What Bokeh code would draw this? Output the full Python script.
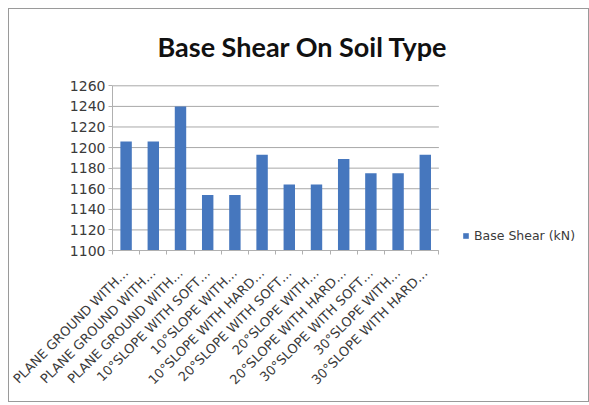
import math
from bokeh.plotting import figure
from bokeh.models import FixedTicker, Legend, LegendItem, Range1d, ColumnDataSource, Label
from bokeh.embed import file_html
from bokeh.resources import INLINE

# Category labels as shown on the axis (truncated, as in the source workbook)
categories = [
    "PLANE GROUND WITH…",
    "PLANE GROUND WITH…",
    "PLANE GROUND WITH…",
    "10°SLOPE WITH SOFT…",
    "10°SLOPE WITH…",
    "10°SLOPE WITH HARD…",
    "20°SLOPE WITH SOFT…",
    "20°SLOPE WITH…",
    "20°SLOPE WITH HARD…",
    "30°SLOPE WITH SOFT…",
    "30°SLOPE WITH…",
    "30°SLOPE WITH HARD…",
]
base_shear = [1206, 1206, 1240, 1154, 1154, 1193, 1164, 1164, 1189, 1175, 1175, 1193]
y_ticks = [1100, 1120, 1140, 1160, 1180, 1200, 1220, 1240, 1260]
series_name = "Base Shear (kN)"
chart_title = "Base Shear On Soil Type"

FONT = "DejaVu Sans"
TITLE_FONT = "Lato"
n = len(categories)
positions = list(range(n))
source = ColumnDataSource(dict(x=positions, top=base_shear))

# The frame runs on past the bars (right, for the legend) and above them
# (for the title); the bar area is PLOT_W x PLOT_H pixels of the frame.
PLOT_W, FRAME_W = 325, 472
PLOT_H, FRAME_H = 164, 236
x_start = -0.5
x_bars_end = n - 0.5
x_end = x_start + n * FRAME_W / PLOT_W
y_start, y_top_tick = y_ticks[0], y_ticks[-1]
y_end = y_start + (y_top_tick - y_start) * FRAME_H / PLOT_H

p = figure(
    width=581, height=394,
    output_backend="svg", toolbar_location=None,
    x_range=Range1d(x_start, x_end),
    y_range=Range1d(y_start, y_end),
    min_border_left=103, min_border_right=4,
    min_border_top=4, min_border_bottom=153,
    margin=(8, 0, 0, 8),
    outline_line_color=None,
)
p.styles = {"border": "1px solid #9a9a9a"}

# Horizontal gridlines over the bar area only
p.segment(x0=[x_start] * len(y_ticks), x1=[x_bars_end] * len(y_ticks),
          y0=y_ticks, y1=y_ticks, line_color="#a8a8a8", line_width=1)

bars = p.vbar(x="x", top="top", bottom=y_start, width=0.42, source=source,
              fill_color="#4677be", line_color=None)

# Title
p.add_layout(Label(
    x=45, y=204, x_units="screen", y_units="screen", text=chart_title,
    text_font=TITLE_FONT, text_font_size="27px", text_font_style="bold",
    text_color="#111111", text_baseline="alphabetic",
))

# Y axis
p.yaxis.ticker = FixedTicker(ticks=y_ticks)
p.yaxis.bounds = (y_start, y_top_tick)
p.yaxis.axis_line_color = "#b0b0b0"
p.yaxis.major_tick_line_color = "#b0b0b0"
p.yaxis.major_tick_out = 4
p.yaxis.major_tick_in = 0
p.yaxis.minor_tick_line_color = None
p.yaxis.major_label_text_font = FONT
p.yaxis.major_label_text_font_size = "14px"
p.yaxis.major_label_text_color = "#3a3a3a"
p.yaxis.major_label_standoff = 3

# X axis: labels at category centres, tick marks on the boundaries
boundaries = [i - 0.5 for i in range(n + 1)]
p.xaxis.ticker = FixedTicker(ticks=positions, minor_ticks=boundaries)
p.xaxis.bounds = (x_start, x_bars_end)
p.xaxis.major_label_overrides = {i: c for i, c in enumerate(categories)}
p.xaxis.major_label_orientation = math.pi / 4
p.xaxis.axis_line_color = "#b0b0b0"
p.xaxis.major_tick_line_color = None
p.xaxis.minor_tick_line_color = "#b0b0b0"
p.xaxis.minor_tick_out = 4
p.xaxis.minor_tick_in = 0
p.xaxis.major_label_text_font = FONT
p.xaxis.major_label_text_font_size = "13px"
p.xaxis.major_label_text_color = "#3a3a3a"
p.xaxis.major_label_standoff = 14

p.xgrid.grid_line_color = None
p.ygrid.grid_line_color = None

legend = Legend(
    items=[LegendItem(label=series_name, renderers=[bars])],
    location=(350, 7),
    glyph_width=7, glyph_height=7,
    label_standoff=5, padding=0, spacing=0, margin=0,
    label_text_font=FONT, label_text_font_size="12.5px",
    label_text_color="#3a3a3a",
    border_line_color=None, background_fill_alpha=0,
)
p.add_layout(legend)

open("out.html", "w").write(file_html(p, INLINE))
